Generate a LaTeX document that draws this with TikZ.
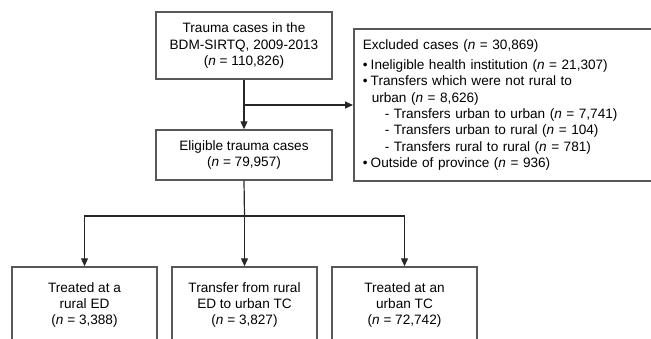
\documentclass[tikz,border=0pt]{standalone}
\usepackage{fontspec}
\setmainfont{Liberation Sans}
\usetikzlibrary{arrows.meta}
\definecolor{boxgray}{HTML}{585858}
\definecolor{linegray}{HTML}{262626}

\begin{document}
\begin{tikzpicture}[x=1pt,y=-1pt,
        font=\fontsize{13.6}{16.4}\selectfont,
        box/.style={draw=boxgray,line width=1.5pt,align=center,inner sep=0pt},
        arr/.style={-{Triangle[length=8pt,width=7pt]},line width=1.2pt,draw=linegray},
        link/.style={line width=1.2pt,draw=linegray}]
        \useasboundingbox (0,0) rectangle (651,338);
        \clip (0,0) rectangle (651,338);

        % top row
        \node[box,minimum width=176pt,minimum height=67pt] (trauma) at (244,45.5)
            {Trauma cases in the\\BDM-SIRTQ, 2009-2013\\(\textit{n} = 110,826)};
        \node[box,anchor=west,minimum height=152pt,text width=289pt,inner xsep=9pt,align=left] (excl) at (353,105)
            {Excluded cases (\textit{n} = 30,869)\\[3.6pt]
             \makebox[8pt][l]{\textbullet}Ineligible health institution (\textit{n} = 21,307)\\
             \makebox[8pt][l]{\textbullet}Transfers which were not rural to\\
             \hspace*{9pt}urban (\textit{n} = 8,626)\\
             \hspace*{22pt}- Transfers urban to urban (\textit{n} = 7,741)\\
             \hspace*{22pt}- Transfers urban to rural (\textit{n} = 104)\\
             \hspace*{22pt}- Transfers rural to rural (\textit{n} = 781)\\
             \makebox[8pt][l]{\textbullet}Outside of province (\textit{n} = 936)};
        \node[box,minimum width=176pt,minimum height=50pt] (elig) at (244,155)
            {Eligible trauma cases\\(\textit{n} = 79,957)};

        % bottom row
        \node[box,minimum width=145pt,minimum height=76pt] (rural) at (84.5,305)
            {Treated at a\\rural ED\\(\textit{n} = 3,388)};
        \node[box,minimum width=145pt,minimum height=76pt] (transfer) at (244.5,305)
            {Transfer from rural\\ED to urban TC\\(\textit{n} = 3,827)};
        \node[box,minimum width=145pt,minimum height=76pt] (urban) at (404.5,305)
            {Treated at an\\urban TC\\(\textit{n} = 72,742)};

        % connectors
        \draw[arr] (trauma) -- (elig);
        \draw[arr] (trauma.south |- excl.west) -- (excl.west);
        \coordinate (fork) at (244.5,216);
        \draw[link] (elig.south) -- (fork);
        \draw[arr] (fork) -- (transfer);
        \draw[arr] (fork) -| (rural);
        \draw[arr] (fork) -| (urban);
\end{tikzpicture}
\end{document}
